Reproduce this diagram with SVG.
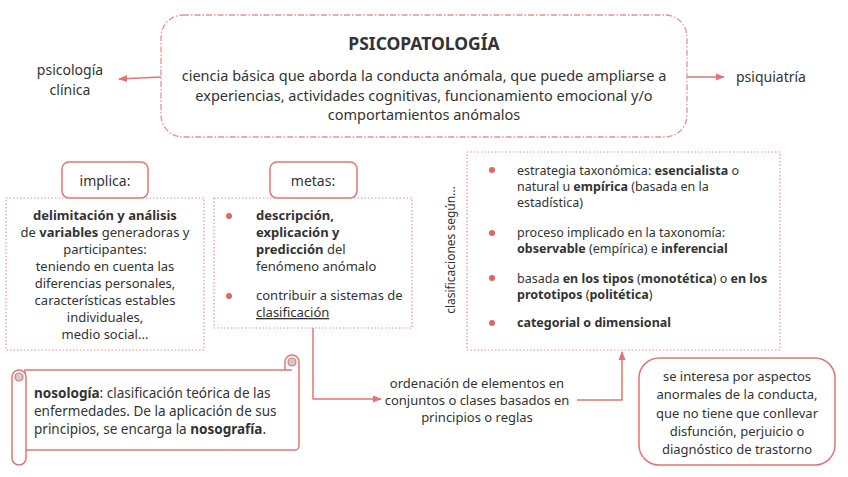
<svg xmlns="http://www.w3.org/2000/svg" width="848" height="477" viewBox="0 0 848 477">
<defs>
<style>
text{font-family:"Noto Sans","Liberation Sans",sans-serif;font-size:13px;fill:#333}
.c{text-anchor:middle}
.b{font-weight:bold}
.s{font-size:12.5px}
.dot{fill:none;stroke:#ef8f8f;stroke-width:1.2;stroke-dasharray:1.5 2}
.solid{fill:#fff;stroke:#e57373;stroke-width:1.5}
.ln{fill:none;stroke:#e57373;stroke-width:1.5}
.bul{fill:#e06666}
</style>
<marker id="ar" viewBox="0 0 10 10" refX="9" refY="5" markerWidth="6" markerHeight="6" orient="auto"><path d="M0,1 L10,5 L0,9 z" fill="#e57373"/></marker>
</defs>
<rect width="848" height="477" fill="#fff"/>

<g id="connectors">
<path class="ln" d="M161,77 L119,79" marker-end="url(#ar)"/>
<path class="ln" d="M687,77 L724,77" marker-end="url(#ar)"/>
<path class="ln" d="M313,328 V399 H381" marker-end="url(#ar)"/>
<path class="ln" d="M577,400 H622 V352" marker-end="url(#ar)"/>
</g>

<g id="psicopatologia">
<rect x="161" y="15" width="526" height="122" rx="22" fill="none" stroke="#ef8f8f" stroke-width="1.3" stroke-dasharray="6 2 1.5 2"/>
<text class="c b" x="424" y="50" style="font-size:17.5px">PSICOPATOLOGÍA</text>
<text class="c" x="424" y="81" style="font-size:14.5px">ciencia básica que aborda la conducta anómala, que puede ampliarse a</text>
<text class="c" x="424" y="101" style="font-size:14.5px">experiencias, actividades cognitivas, funcionamiento emocional y/o</text>
<text class="c" x="424" y="120" style="font-size:14.5px">comportamientos anómalos</text>
</g>

<g id="psicologia-clinica">
<text class="c" x="70" y="75" style="font-size:14px">psicología</text>
<text class="c" x="70" y="95" style="font-size:14px">clínica</text>
</g>

<g id="psiquiatria">
<text x="736" y="82" style="font-size:14px">psiquiatría</text>
</g>

<g id="implica">
<rect class="solid" x="62" y="162" width="86" height="36" rx="7"/>
<text class="c" x="105" y="186" style="font-size:14px">implica:</text>
</g>

<g id="implica-detalle">
<rect class="dot" x="6" y="198" width="198" height="152"/>
<text class="c" x="105" y="220"><tspan class="b">delimitación y análisis</tspan></text>
<text class="c" x="105" y="237">de <tspan class="b">variables</tspan> generadoras y</text>
<text class="c" x="105" y="254">participantes:</text>
<text class="c" x="105" y="271">teniendo en cuenta las</text>
<text class="c" x="105" y="288">diferencias personales,</text>
<text class="c" x="105" y="305">características estables</text>
<text class="c" x="105" y="322">individuales,</text>
<text class="c" x="105" y="339">medio social...</text>
</g>

<g id="metas">
<rect class="solid" x="270" y="162" width="87" height="36" rx="7"/>
<text class="c" x="313" y="186" style="font-size:14px">metas:</text>
</g>

<g id="metas-detalle">
<rect class="dot" x="214" y="198" width="198" height="130"/>
<circle class="bul" cx="229" cy="216" r="3"/>
<text x="256" y="220" class="b">descripción,</text>
<text x="256" y="237" class="b">explicación y</text>
<text x="256" y="254"><tspan class="b">predicción</tspan> del</text>
<text x="256" y="271">fenómeno anómalo</text>
<circle class="bul" cx="229" cy="296" r="3"/>
<text x="256" y="300">contribuir a sistemas de</text>
<text x="256" y="317" text-decoration="underline">clasificación</text>
</g>

<g id="clasificaciones">
<rect class="dot" x="467" y="152" width="313" height="198"/>
<text class="c" transform="translate(455,250) rotate(-90)" style="font-size:12px">clasificaciones según...</text>
<circle class="bul" cx="492" cy="170" r="3"/>
<text class="s" x="517" y="175">estrategia taxonómica: <tspan class="b">esencialista</tspan> o</text>
<text class="s" x="517" y="191">natural u <tspan class="b">empírica</tspan> (basada en la</text>
<text class="s" x="517" y="207">estadística)</text>
<circle class="bul" cx="492" cy="233" r="3"/>
<text class="s" x="517" y="237">proceso implicado en la taxonomía:</text>
<text class="s" x="517" y="253"><tspan class="b">observable</tspan> (empírica) e <tspan class="b">inferencial</tspan></text>
<circle class="bul" cx="492" cy="278" r="3"/>
<text class="s" x="517" y="283">basada <tspan class="b">en los tipos</tspan> (<tspan class="b">monotética</tspan>) o <tspan class="b">en los</tspan></text>
<text class="s" x="517" y="299"><tspan class="b">prototipos</tspan> (<tspan class="b">politética</tspan>)</text>
<circle class="bul" cx="492" cy="323" r="3"/>
<text class="s b" x="517" y="327">categorial o dimensional</text>
</g>

<g id="nosologia">
<path class="solid" d="M25,370 H285 V362 A7,7 0 0 1 299,362 V446 A4,4 0 0 1 295,450 H25 Z"/>
<path class="ln" d="M285,370 H292"/>
<circle cx="292" cy="362" r="4" fill="#ccc" stroke="#e57373" stroke-width="1.2"/>
<path class="solid" d="M12,377 A7,7 0 0 1 26,377 V458 A7,7 0 0 1 12,458 Z"/>
<circle cx="19" cy="377" r="4" fill="#ccc" stroke="#e57373" stroke-width="1.2"/>
<text x="34" y="398" style="font-size:13.5px"><tspan class="b">nosología</tspan>: clasificación teórica de las</text>
<text x="34" y="416" style="font-size:13.5px">enfermedades. De la aplicación de sus</text>
<text x="34" y="434" style="font-size:13.5px">principios, se encarga la <tspan class="b">nosografía</tspan>.</text>
</g>

<g id="ordenacion">
<text class="c" x="477" y="388">ordenación de elementos en</text>
<text class="c" x="477" y="405">conjuntos o clases basados en</text>
<text class="c" x="477" y="422">principios o reglas</text>
</g>

<g id="se-interesa">
<rect class="solid" x="639" y="358" width="196" height="107" rx="20"/>
<text class="c" x="737" y="381">se interesa por aspectos</text>
<text class="c" x="737" y="399">anormales de la conducta,</text>
<text class="c" x="737" y="418">que no tiene que conllevar</text>
<text class="c" x="737" y="436">disfunción, perjuicio o</text>
<text class="c" x="737" y="454">diagnóstico de trastorno</text>
</g>
</svg>
